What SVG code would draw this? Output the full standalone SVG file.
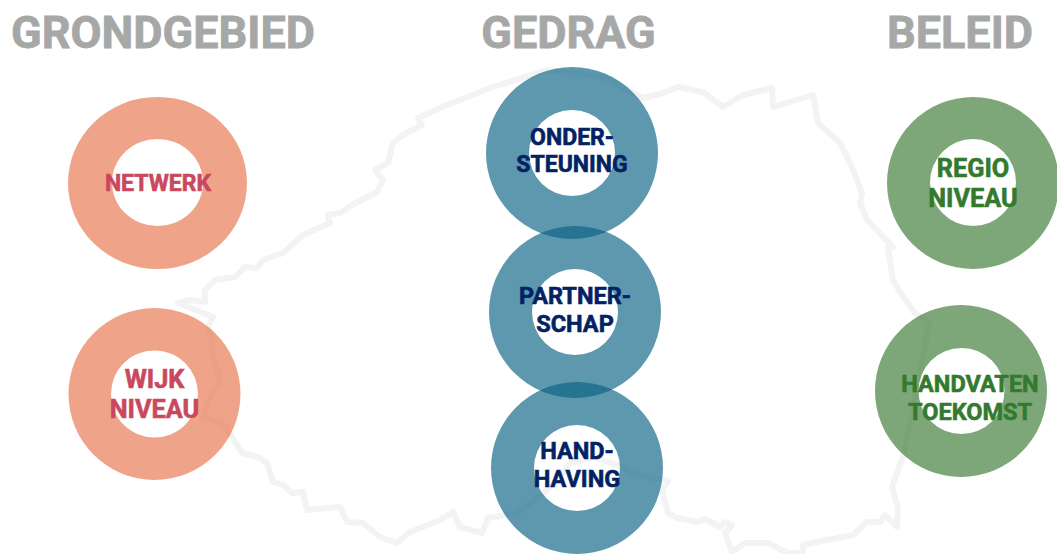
<svg xmlns="http://www.w3.org/2000/svg" width="1057" height="554" viewBox="0 0 1057 554">
<defs><filter id="soft" x="-5%" y="-5%" width="110%" height="110%"><feGaussianBlur stdDeviation="0.7"/></filter></defs>
<style>
text{font-family:Roboto,"Liberation Sans",sans-serif;font-weight:700;text-anchor:middle;paint-order:stroke}
.t{font-size:45px;fill:#a6a8a7;stroke:#a6a8a7;stroke-width:.8}
.l{font-size:23px;stroke-width:.6}
.w{font-size:25.300px}
.h{font-size:23.500px}
.r{fill-rule:evenodd;fill-opacity:.65}
.s{fill:#e6734b}.b{fill:#086182}.g{fill:#397831}
.st{fill:#c9485e;stroke:#c9485e}.bt{fill:#032263;stroke:#032263}.gt{fill:#337a2e;stroke:#337a2e}
</style>
<rect width="1057" height="554" fill="#fff"/>
<g id="map"><path fill="none" stroke="#f3f3f3" stroke-width="6" stroke-linejoin="round" stroke-linecap="round" filter="url(#soft)" d="M547 70L490 88 447 105 418 118 422 125 403 135 393 143 388 163 375 170 383 180 377 192 352 205 340 213 328 215 330 223 303 235 283 253 263 260 257 268 245 267 235 277 215 280 205 290 205 302 190 300 178 303 213 317 208 327 212 337 212 350 220 380 210 397 203 418 222 423 232 437 242 453 258 457 267 463 273 482 283 485 292 493 303 492 307 510 340 507 347 522 363 523 380 537 397 543 410 532 440 520 453 512 460 527 482 533 488 518 517 513 530 503 547 490 563 473 570 463 593 457 617 465 637 475 668 481 662 490 668 513 677 518 698 522 705 519 720 527 725 522 732 525 725 533 732 552 745 543 768 543 787 553 803 553 803 545 827 540 853 535 867 522 880 522 885 515 897 527 898 508 892 487 898 470 903 457 910 422 924 352 929 322 914 312 902 295 893 280 888 248 893 247 867 220 860 203 862 193 852 167 840 143 818 123 813 95 790 102 773 107 772 88 743 95 723 107 703 92 678 87 663 93 643 98 603 77 Z"/></g>
<g id="titles">
<text class="t" x="163" y="48">GRONDGEBIED</text>
<text class="t" x="568.500" y="48">GEDRAG</text>
<text class="t" x="960" y="48">BELEID</text>
</g>
<g id="connectors"></g>
<g id="netwerk"><path class="r s" d="M68 183a89.500 86 0 1 0 179 0a89.500 86 0 1 0-179 0ZM112 182.500a45.500 43.500 0 1 0 91 0a45.500 43.500 0 1 0-91 0Z"/><text class="l st" x="158" y="191">NETWERK</text></g>
<g id="wijk-niveau"><path class="r s" d="M68.500 394a86 86 0 1 0 172 0a86 86 0 1 0-172 0ZM111 394a43.500 43.500 0 1 0 87 0a43.500 43.500 0 1 0-87 0Z"/><text class="l w st" x="154.500" y="387.500">WIJK</text><text class="l w st" x="154.500" y="418">NIVEAU</text></g>
<g id="ondersteuning"><path class="r b" d="M486 153a86 86 0 1 0 172 0a86 86 0 1 0-172 0ZM529 153a43 43 0 1 0 86 0a43 43 0 1 0-86 0Z"/><text class="l bt" x="572" y="145">ONDER-</text><text class="l bt" x="572" y="172">STEUNING</text></g>
<g id="partnerschap"><path class="r b" d="M489 312a86 86 0 1 0 172 0a86 86 0 1 0-172 0ZM532 312a43 43 0 1 0 86 0a43 43 0 1 0-86 0Z"/><text class="l h bt" x="575" y="304">PARTNER-</text><text class="l h bt" x="575" y="332">SCHAP</text></g>
<g id="handhaving"><path class="r b" d="M491 468a86 86 0 1 0 172 0a86 86 0 1 0-172 0ZM534 468a43 43 0 1 0 86 0a43 43 0 1 0-86 0Z"/><text class="l h bt" x="577" y="459">HAND-</text><text class="l h bt" x="577" y="487">HAVING</text></g>
<g id="regio-niveau"><path class="r g" d="M887 183a86 86 0 1 0 172 0a86 86 0 1 0-172 0ZM930 182.500a43 43.500 0 1 0 86 0a43 43.500 0 1 0-86 0Z"/><text class="l w gt" x="973" y="177">REGIO</text><text class="l w gt" x="973" y="207">NIVEAU</text></g>
<g id="handvaten-toekomst"><path class="r g" d="M875 391a86 86 0 1 0 172 0a86 86 0 1 0-172 0ZM918.500 391a43 43 0 1 0 86 0a43 43 0 1 0-86 0Z"/><text class="l h gt" x="970" y="392">HANDVATEN</text><text class="l h gt" x="970" y="420">TOEKOMST</text></g>
</svg>
